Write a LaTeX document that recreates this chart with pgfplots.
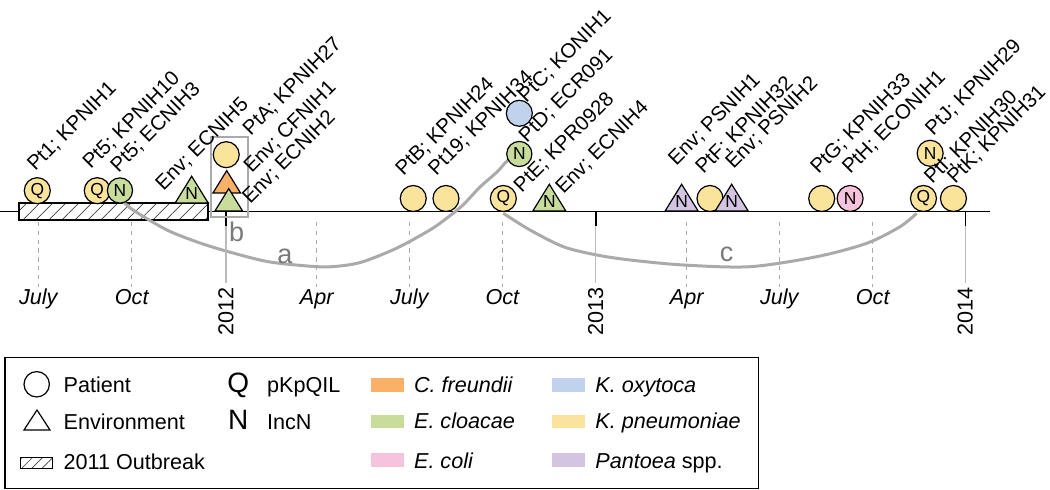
\documentclass[border=0pt]{standalone}
\usepackage{pgfplots}
\pgfplotsset{compat=1.18}
\usepackage{fontspec}
\setmainfont{Liberation Sans}
\usetikzlibrary{patterns.meta}
\definecolor{kpn}{HTML}{FAE49B}
\definecolor{ecl}{HTML}{C8DC9B}
\definecolor{cfr}{HTML}{F9B067}
\definecolor{eco}{HTML}{F5C3DC}
\definecolor{kox}{HTML}{C0D2EC}
\definecolor{pan}{HTML}{D3C4E2}
\definecolor{arcgray}{HTML}{AAAAAA}
\definecolor{txtgray}{HTML}{7A7A7A}
\definecolor{yeargray}{HTML}{BBBBBB}
\pgfdeclareplotmark{tribase}{%
  \pgfpathmoveto{\pgfqpoint{-\pgfplotmarksize}{0pt}}%
  \pgfpathlineto{\pgfqpoint{\pgfplotmarksize}{0pt}}%
  \pgfpathlineto{\pgfqpoint{0pt}{1.62\pgfplotmarksize}}%
  \pgfpathclose\pgfusepathqfillstroke}
\newcommand\lbl{\fontsize{10.2}{11}\selectfont}
\newcommand\txt{\fontsize{10.8}{12}\selectfont}
\newcommand\ltr{\fontsize{8.7}{8.7}\selectfont}
\begin{document}
\begin{tikzpicture}
\begin{axis}[at={(0,0)}, anchor=south west, scale only axis,
  width=525pt, height=245pt,
  xmin=143.2, xmax=1179.6, ymin=0, ymax=490, y dir=reverse,
  hide axis, clip=false]
% baseline
\addplot[black, line width=0.8pt] coordinates {(143.2,211.5) (1120.4,211.5)};
% 2011 outbreak
\draw[line width=0.75pt, preaction={fill=white},
  pattern={Lines[angle=45,distance=4.6pt,line width=0.35pt]}, pattern color=black!75]
  (axis cs:162,203) rectangle (axis cs:348.5,220);
% arcs a and c
\addplot[smooth, arcgray, line width=1.5pt] coordinates {
 (263.3,200) (274.5,210) (308.0,230) (340.6,243) (373.2,253) (409.7,262)
 (456.1,266.7) (478.8,266) (501.5,261.7) (535.1,248) (567.6,230) (584.4,218)
 (600.2,205) (617.0,187) (633.8,172) (641.7,163) (648.6,157)};
\addplot[smooth, arcgray, line width=1.5pt] coordinates {
 (640.0,213.3) (666.3,230) (699.2,246.7) (732.2,255) (765.1,260) (817.7,265)
 (883.5,266.7) (949.3,256.7) (998.7,243.3) (1031.6,226.7) (1048.0,213.3)};
% Pantoea triangle 1
\addplot[only marks, black, mark=tribase, mark size=8.25pt,
  mark options={fill=pan, draw=black, line width=0.6pt}] coordinates {(816,211)};
% K. pneumoniae patients
\addplot[only marks, black, mark=*, mark size=6.5pt,
  mark options={fill=kpn, draw=black, line width=0.6pt}] table {
x y
180.0 190.7
239.2 190.7
366.5 154.7
551.1 198.5
583.4 198.5
640.0 198.5
844.0 198.5
954.3 198.5
1054.7 198.5
1084.3 198.5
1061.3 153.3
};
% Pantoea triangle 2
\addplot[only marks, black, mark=tribase, mark size=8.25pt,
  mark options={fill=pan, draw=black, line width=0.6pt}] coordinates {(865.4,211)};
% E. cloacae patients
\addplot[only marks, black, mark=*, mark size=6.3pt,
  mark options={fill=ecl, draw=black, line width=0.6pt}] table {
x y
261.6 190.5
655.8 154.0
};
% K. oxytoca patient
\addplot[only marks, black, mark=*, mark size=6.5pt,
  mark options={fill=kox, draw=black, line width=0.6pt}] coordinates {(655.8,113.3)};
% E. coli patient
\addplot[only marks, black, mark=*, mark size=6.5pt,
  mark options={fill=eco, draw=black, line width=0.6pt}] coordinates {(982.3,198.5)};
% E. cloacae environment
\addplot[only marks, black, mark=tribase, mark size=8.25pt,
  mark options={fill=ecl, draw=black, line width=0.6pt}] table {
x y
332.4 203
685.4 211
};
% box b environment samples
\addplot[only marks, black, mark=tribase, mark size=6.9pt,
  mark options={fill=cfr, draw=black, line width=0.6pt}] coordinates {(367,193)};
\addplot[only marks, black, mark=tribase, mark size=6.9pt,
  mark options={fill=ecl, draw=black, line width=0.6pt}] coordinates {(369,211)};
% plasmid letters
\addplot[only marks, black, mark=text, text mark={\ltr Q}] table {
x y
180.0 190.7
239.2 190.7
640.0 198.5
1054.7 198.5
};
\addplot[only marks, black, mark=text, text mark={\ltr N}] table {
x y
261.6 190.5
655.8 154.0
982.3 198.5
1061.3 153.3
332.4 193.5
685.4 201.5
816.0 201.5
865.4 201.5
};
\end{axis}
\begin{scope}[yshift=245pt, x=0.5pt, y=-0.5pt]
% month guides
\foreach \x in {38.3,131.7,316.7,409.3,502.3,686.7,779.3,872.7}
  \draw[arcgray, line width=0.5pt, dash pattern=on 2.2pt off 2.2pt] (\x,222) -- (\x,287);
\foreach \x/\m in {38.3/July,131.7/Oct,316.7/Apr,409.3/July,502.3/Oct,686.7/Apr,779.3/July,872.7/Oct}
  \node[anchor=base, inner sep=0pt, font=\txt\itshape] at (\x,305) {\m};
% year ticks
\foreach \x/\yr in {226/2012,595.7/2013,965.3/2014}{
  \draw[yeargray, line width=0.6pt] (\x,226) -- (\x,283);
  \draw[black, line width=0.8pt] (\x,211.5) -- (\x,226);
  \node[rotate=90, inner sep=0pt, font=\txt] at (\x,311.5) {\yr};
}
% box b and link labels
\draw[arcgray, line width=1.2pt] (211,137) rectangle (248,217);
\node[anchor=base, inner sep=0pt, text=txtgray, font=\fontsize{13.5}{14}\selectfont] at (285,263.3) {a};
\node[anchor=base, inner sep=0pt, text=txtgray, font=\fontsize{13.5}{14}\selectfont] at (236.7,241.7) {b};
\node[anchor=base, inner sep=0pt, text=txtgray, font=\fontsize{13.5}{14}\selectfont] at (726.7,261.7) {c};
% isolate labels
\foreach \x/\y/\t in {
 35/172/{Pt1; KPNIH1},
 90.7/170/{Pt5; KPNIH10},
 118.3/173.3/{Pt5; ECNIH3},
 163.3/191.7/{Env; ECNIH5},
 250.7/136.7/{PtA; KPNIH27},
 251.7/174/{Env; CFNIH1},
 250/205/{Env; ECNIH2},
 403.3/176.7/{PtB; KPNIH24},
 436/176.7/{Pt19; KPNIH34},
 526/103.3/{PtC; KONIH1},
 526.7/143.3/{PtD; ECR091},
 521.7/193.3/{PtE; KPR0928},
 563.3/195/{Env; ECNIH4},
 676/166.7/{Env; PSNIH1},
 703.3/175/{PtF; KPNIH32},
 733.3/170/{Env; PSNIH2},
 818.3/175/{PtG; KPNIH33},
 850/175/{PtH; ECONIH1},
 933/136.7/{PtJ; KPNIH29},
 932/185/{PtI; KPNIH30},
 955/185/{PtK; KPNIH31}}
  \node[rotate=45, anchor=base west, inner sep=0pt, font=\lbl] at (\x,\y) {\t};
% legend
\draw[line width=0.75pt] (5,357.3) rectangle (758.3,488.3);
\draw[line width=0.6pt] (36.7,384.3) circle[radius=6.35pt];
\draw[line width=0.6pt] (24,430) -- (50,430) -- (37,410) -- cycle;
\draw[line width=0.6pt, preaction={fill=white},
  pattern={Lines[angle=45,distance=3.6pt,line width=0.3pt]}, pattern color=black!75]
  (20.7,457.3) rectangle (52.7,468.3);
\node[anchor=base west, inner sep=0pt, font=\txt] at (63.3,392.7) {Patient};
\node[anchor=base west, inner sep=0pt, font=\txt] at (63.3,429.3) {Environment};
\node[anchor=base west, inner sep=0pt, font=\txt] at (63.3,470) {2011 Outbreak};
\node[anchor=base, inner sep=0pt, font=\fontsize{14}{14}\selectfont] at (238.3,392.7) {Q};
\node[anchor=base, inner sep=0pt, font=\fontsize{14}{14}\selectfont] at (238.3,429.3) {N};
\node[anchor=base west, inner sep=0pt, font=\txt] at (266.7,392.7) {pKpQIL};
\node[anchor=base west, inner sep=0pt, font=\txt] at (266.7,429.3) {IncN};
\fill[cfr] (371,378.3) rectangle (403.7,391.7);
\fill[ecl] (371,415) rectangle (403.7,428.3);
\fill[eco] (371,453.3) rectangle (403.7,466.7);
\fill[kox] (552.3,378.3) rectangle (585,391.7);
\fill[kpn] (552.3,415) rectangle (585,428.3);
\fill[pan] (552.3,453.3) rectangle (585,466.7);
\node[anchor=base west, inner sep=0pt, font=\txt\itshape] at (413.7,392.5) {C. freundii};
\node[anchor=base west, inner sep=0pt, font=\txt\itshape] at (413.7,429) {E. cloacae};
\node[anchor=base west, inner sep=0pt, font=\txt\itshape] at (413.7,468.3) {E. coli};
\node[anchor=base west, inner sep=0pt, font=\txt\itshape] at (595,392.5) {K. oxytoca};
\node[anchor=base west, inner sep=0pt, font=\txt\itshape] at (595,429) {K. pneumoniae};
\node[anchor=base west, inner sep=0pt, font=\txt] at (595,468.3) {\textit{Pantoea} spp.};
\end{scope}
\pgfresetboundingbox
\path (0,0) rectangle (525pt,245pt);
\end{tikzpicture}
\end{document}
